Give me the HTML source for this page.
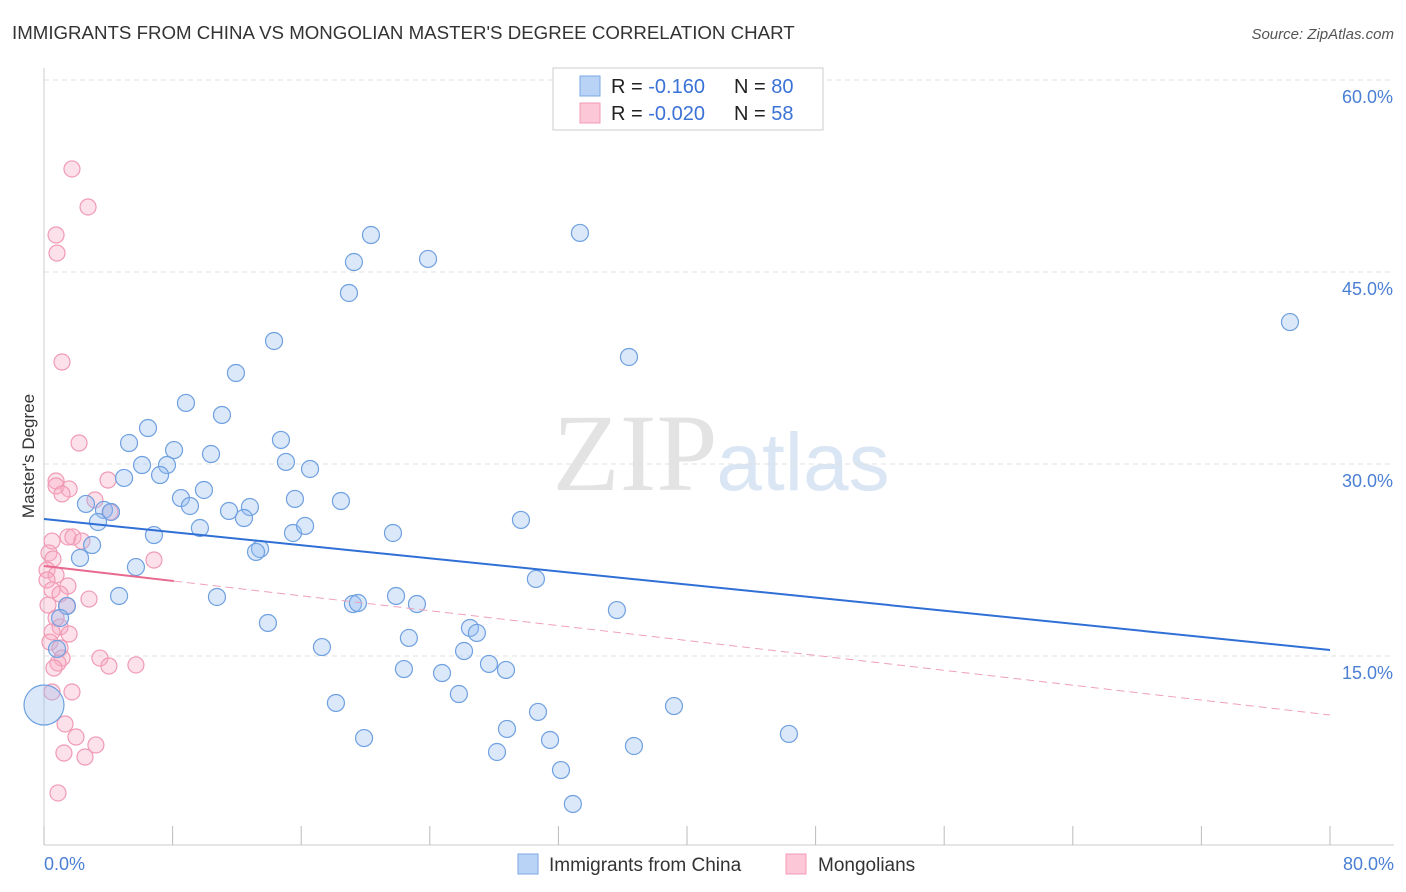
<!DOCTYPE html>
<html><head><meta charset="utf-8">
<style>
body{margin:0;background:#fff;font-family:"Liberation Sans",sans-serif;}
svg{display:block}
</style></head>
<body>
<svg id="chart" width="1406" height="892">
<text x="12" y="39" font-size="18.7" fill="#333">IMMIGRANTS FROM CHINA VS MONGOLIAN MASTER'S DEGREE CORRELATION CHART</text>
<text x="1394" y="39" font-size="15" fill="#555" font-style="italic" text-anchor="end">Source: ZipAtlas.com</text>
<text x="34" y="456" font-size="17" fill="#333" transform="rotate(-90 34 456)" text-anchor="middle">Master's Degree</text>
<g>
<text x="635" y="490" font-size="110" fill="#e3e3e3" font-family="Liberation Serif,serif" text-anchor="middle">ZIP</text>
<text x="803" y="490" font-size="82" fill="#dbe6f5" text-anchor="middle">atlas</text>
</g>
<g id="grid"></g>
<g id="axes"></g>
<g id="marks"></g>
<g>
<rect x="553" y="68" width="270" height="62" fill="#fff" stroke="#ccc"/>
<rect x="580" y="76" width="20" height="20" fill="#b8d3f5" stroke="#7aaae6"/>
<rect x="580" y="103" width="20" height="20" fill="#fcc8d7" stroke="#f09ab4"/>
<text x="611" y="93" font-size="20" fill="#222">R = <tspan fill="#3a72d6"> -0.160</tspan><tspan x="734">N = </tspan><tspan fill="#3a72d6">80</tspan></text>
<text x="611" y="120" font-size="20" fill="#222">R = <tspan fill="#3a72d6">-0.020</tspan><tspan x="734">N = </tspan><tspan fill="#3a72d6">58</tspan></text>
</g>
<g>
<rect x="518" y="854" width="20" height="20" fill="#b8d3f5" stroke="#7aaae6"/>
<text x="549" y="871" font-size="19" fill="#333">Immigrants from China</text>
<rect x="786" y="854" width="20" height="20" fill="#fcc8d7" stroke="#f09ab4"/>
<text x="818" y="871" font-size="19" fill="#333">Mongolians</text>
</g>
</svg>
<script>
const chinaX=[20.34,33.34,19.28,23.89,18.97,77.51,14.31,36.39,11.94,8.83,11.07,6.47,5.29,8.09,14.74,10.39,7.65,6.10,15.05,16.55,4.98,7.22,9.95,8.52,9.08,15.61,18.47,12.81,2.61,3.73,4.17,11.51,12.44,3.36,29.67,9.70,15.49,16.24,21.71,6.84,2.99,13.44,13.19,2.24,5.72,30.60,4.67,10.76,21.9,23.2,19.22,19.53,35.64,1.43,1.0,13.93,26.5,26.93,22.7,17.29,26.13,0.81,27.68,28.74,22.39,24.76,25.81,18.16,39.19,30.73,28.80,19.91,31.48,36.70,46.34,28.18,32.16,32.9,0];
const chinaY=[47.89,48.05,45.78,46.02,43.36,41.09,39.61,38.36,37.11,34.77,33.83,32.81,31.64,31.09,31.88,30.78,29.92,29.92,30.16,29.61,28.91,29.14,27.97,27.34,26.72,27.27,27.11,26.64,26.88,26.41,26.25,26.33,25.78,25.47,25.63,25.0,24.61,25.16,24.61,24.45,23.67,23.36,23.13,22.66,21.95,21.02,19.69,19.61,19.69,19.06,19.06,19.14,18.59,18.91,17.97,17.58,17.19,16.80,16.41,15.70,15.39,15.55,14.38,13.91,13.98,13.67,12.03,11.33,11.09,10.63,9.30,8.59,8.44,7.97,8.91,7.5,6.09,3.44,11.17];
const mongX=[1.74,2.74,0.75,0.81,1.12,2.18,0.75,0.75,1.56,1.12,3.17,4.11,3.98,0.5,1.49,1.8,2.36,0.31,0.56,0.19,0.75,0.19,1.49,0.5,1.0,2.8,0.25,1.43,0.75,1.0,0.5,1.56,0.37,1.0,1.12,3.48,0.87,0.62,4.04,5.72,1.74,0.5,1.31,1.99,1.24,3.23,2.55,0.87,6.84];
const mongY=[53.05,50.08,47.89,46.48,37.97,31.64,28.67,28.28,28.05,27.66,27.19,26.25,28.75,23.98,24.3,24.3,23.98,23.05,22.58,21.72,21.33,20.94,20.47,20.16,19.84,19.45,18.98,18.91,17.97,17.27,16.88,16.72,16.09,15.63,14.84,14.84,14.45,14.06,14.22,14.30,12.19,12.19,9.69,8.67,7.42,8.05,7.11,4.30,22.5];
const chinaTrend=[25.7,15.47];
const mongTrend=[22.03,10.39];
const yTicks=[15,30,45,60];
const xTicks=[0,8,16,24,32,40,48,56,64,72,80];
const NS='http://www.w3.org/2000/svg';
const sx=v=>44+v/80*1286, sy=v=>848-v/15*192;
function mk(p,t,a){const e=document.createElementNS(NS,t);for(const k in a)e.setAttribute(k,a[k]);p.appendChild(e);return e;}
const grid=document.getElementById('grid'),axes=document.getElementById('axes'),marks=document.getElementById('marks');
yTicks.forEach(t=>{
 const l=mk(grid,'line',{x1:44,x2:1394,y1:sy(t),y2:sy(t),stroke:'#e0e0e0','stroke-dasharray':'5,4'});
 
 
 const tx=mk(axes,'text',{x:1393,y:sy(t)+23,'font-size':18,fill:'#4a7fd4','text-anchor':'end'});
 tx.textContent=t.toFixed(1)+'%';
 
 
});
const ax=mk(axes,'line',{x1:44,x2:44,y1:68,y2:845,stroke:'#ccc'});


const bx=mk(axes,'line',{x1:44,x2:1394,y1:845,y2:845,stroke:'#ccc'});


xTicks.forEach(t=>{
 const l=mk(axes,'line',{x1:sx(t),x2:sx(t),y1:826,y2:845,stroke:'#bbb'});
 
 
});
[[0,'start',44],[80,'end',1394]].forEach(([v,a,x])=>{
 const tx=mk(axes,'text',{x:x,y:870,'font-size':18,fill:'#4a7fd4','text-anchor':a});
 tx.textContent=v.toFixed(1)+'%';
 
 
});
mongX.forEach((v,i)=>{
 const c=mk(marks,'circle',{cx:sx(v),cy:sy(mongY[i]),r:8,fill:'rgba(248,170,196,0.35)',stroke:'#f09ab4','stroke-width':1.2});
 
 
});
chinaX.forEach((v,i)=>{
 const big=i===chinaX.length-1;
 const c=mk(marks,'circle',{cx:sx(v),cy:sy(chinaY[i]),r:big?20:8.5,fill:'rgba(150,190,240,0.35)',stroke:'#6fa0e0','stroke-width':1.2});
 
 
});
const tb=mk(marks,'line',{x1:sx(0),y1:sy(chinaTrend[0]),x2:sx(80),y2:sy(chinaTrend[1]),stroke:'#2f6fd6','stroke-width':2});


const mAt=x=>mongTrend[0]+(mongTrend[1]-mongTrend[0])*x/80;
const tp=mk(marks,'line',{x1:sx(0),y1:sy(mAt(0)),x2:sx(8.08),y2:sy(mAt(8.08)),stroke:'#e8688f','stroke-width':2});


const td=mk(marks,'line',{x1:sx(8.08),y1:sy(mAt(8.08)),x2:sx(80),y2:sy(mAt(80)),stroke:'#f0a0b8','stroke-width':1,'stroke-dasharray':'8,5'});


</script>
</body></html>
